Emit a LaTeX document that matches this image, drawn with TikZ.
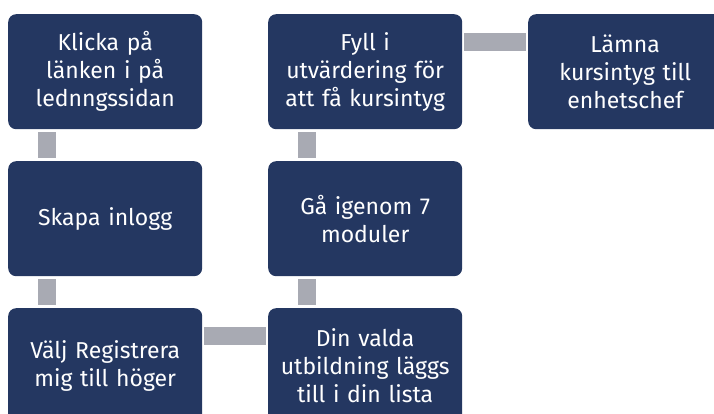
\documentclass[tikz,border=0pt]{standalone}
\usepackage{fontspec}
\setmainfont{Fira Sans}
\definecolor{boxblue}{HTML}{243761}
\definecolor{conngray}{HTML}{A8AAB3}
\begin{document}
\begin{tikzpicture}[x=1pt,y=-1pt,
  stepbox/.style={fill=boxblue, rounded corners=8pt, minimum width=194pt, minimum height=115pt,
    anchor=north west, inner sep=0pt, text=white, align=center, text width=190pt,
    font=\fontsize{23pt}{28pt}\selectfont},
  conn/.style={draw=conngray, line width=18pt, line cap=butt},
  vconn/.style={conn, shorten <=3pt, shorten >=3pt},
  hconn/.style={conn, shorten <=2pt, shorten >=2pt}]
\useasboundingbox (0,0) rectangle (714,414);
\begin{scope}
\clip (0,0) rectangle (714,414);
\node[stepbox] (b1) at (8,14) {Klicka på\\länken i på\\lednngssidan};
\node[stepbox] (b2) at (8,161) {Skapa inlogg};
\node[stepbox] (b3) at (8,308) {Välj Registrera\\mig till höger};
\node[stepbox] (b4) at (268,308) {Din valda\\utbildning läggs\\till i din lista};
\node[stepbox] (b5) at (268,161) {Gå igenom 7\\moduler};
\node[stepbox] (b6) at (268,14) {Fyll i\\utvärdering för\\att få kursintyg};
\node[stepbox] (b7) at (528,14) {Lämna\\kursintyg till\\enhetschef};
\draw[vconn] ([xshift=39pt]b1.south west) -- ([xshift=39pt]b2.north west);
\draw[vconn] ([xshift=39pt]b2.south west) -- ([xshift=39pt]b3.north west);
\draw[hconn] ([yshift=-27.5pt]b3.north east) -- ([yshift=-27.5pt]b4.north west);
\draw[vconn] ([xshift=39pt]b4.north west) -- ([xshift=39pt]b5.south west);
\draw[vconn] ([xshift=39pt]b5.north west) -- ([xshift=39pt]b6.south west);
\draw[hconn] ([yshift=-28pt]b6.north east) -- ([yshift=-28pt]b7.north west);
\end{scope}
\end{tikzpicture}
\end{document}
